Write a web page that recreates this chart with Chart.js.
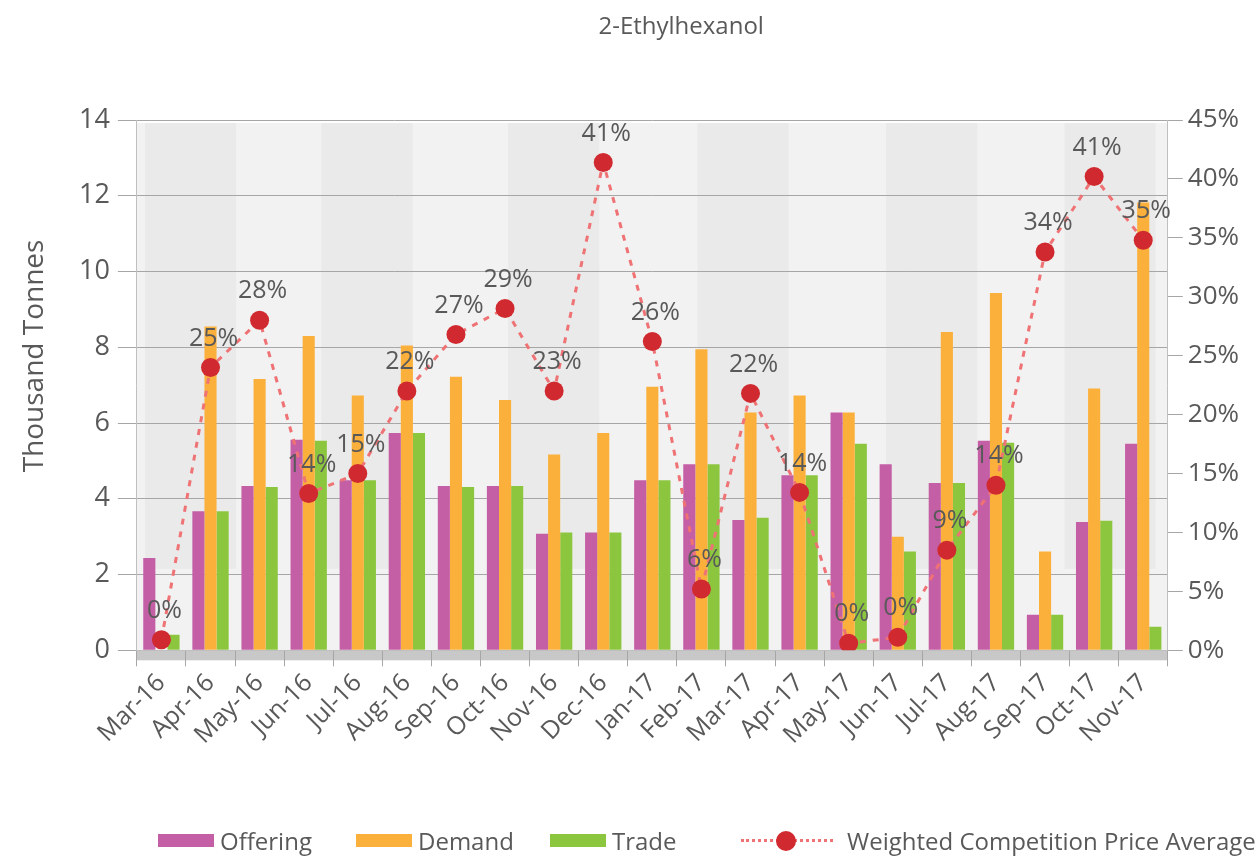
<!DOCTYPE html>
<html>
<head>
<meta charset="utf-8">
<script src="https://cdn.jsdelivr.net/npm/chart.js@4.4.0/dist/chart.umd.min.js"></script>
<style>
    body { margin: 0; background: #fff; font-family: "Open Sans", sans-serif; }
    #wrap { position: relative; width: 1260px; height: 860px; }
    .item { position: absolute; top: 824px; display: flex; align-items: center; font-size: 24px; color: #595959; white-space: nowrap; }
    .box { width: 56px; height: 13px; margin-right: 6px; }
    .lineKey { position: relative; width: 92px; height: 20px; margin-right: 14px; }
    .lineKey .dash { position: absolute; left: 0; right: 0; top: 8px; border-top: 3px dotted #ef7275; }
    .lineKey .dot { position: absolute; left: 35px; top: 0px; width: 20px; height: 20px; border-radius: 50%; background: #d02a30; }
</style>
</head>
<body>
<div id="wrap">
    <canvas id="chart" width="1260" height="860"></canvas>
    <div class="item" style="left:158px"><div class="box" style="background:#c45ea5"></div>Offering</div>
    <div class="item" style="left:356px"><div class="box" style="background:#fbb03b"></div>Demand</div>
    <div class="item" style="left:550px"><div class="box" style="background:#8cc63f"></div>Trade</div>
    <div class="item" style="left:741px"><div class="lineKey"><div class="dash"></div><div class="dot"></div></div>Weighted Competition Price Average</div>
</div>
<script>
// 카테고리 (월)
const months = ['Mar-16', 'Apr-16', 'May-16', 'Jun-16', 'Jul-16', 'Aug-16', 'Sep-16', 'Oct-16', 'Nov-16', 'Dec-16', 'Jan-17',
    'Feb-17', 'Mar-17', 'Apr-17', 'May-17', 'Jun-17', 'Jul-17', 'Aug-17', 'Sep-17', 'Oct-17', 'Nov-17'];

// 막대 데이터 (천 톤)
const offering = [2.44, 3.67, 4.34, 5.56, 4.49, 5.74, 4.34, 4.34, 3.08, 3.11, 4.49, 4.91, 3.44, 4.62, 6.28, 4.91, 4.42, 5.53, 0.94, 3.39, 5.45];
const demand = [0, 8.55, 7.16, 8.3, 6.73, 8.05, 7.22, 6.61, 5.17, 5.74, 6.96, 7.95, 6.28, 6.73, 6.28, 3.0, 8.4, 9.43, 2.61, 6.91, 11.82];
const trade = [0.41, 3.67, 4.31, 5.53, 4.49, 5.74, 4.31, 4.34, 3.11, 3.11, 4.49, 4.91, 3.5, 4.62, 5.45, 2.61, 4.42, 5.48, 0.94, 3.42, 0.62];

// 가중 경쟁 가격 평균 (%) 과 표시 라벨
const priceAvg = [0.9, 24.0, 28.0, 13.3, 15.0, 22.0, 26.8, 29.0, 22.0, 41.4, 26.2, 5.2, 21.8, 13.4, 0.6, 1.1, 8.5, 14.0, 33.8, 40.2, 34.8];
const priceLabels = ['0%', '25%', '28%', '14%', '15%', '22%', '27%', '29%', '23%', '41%', '26%', '6%', '22%', '14%', '0%', '0%', '9%', '14%', '34%', '41%', '35%'];

// 축 눈금
const leftTicks = [0, 2, 4, 6, 8, 10, 12, 14];
const rightTicks = [0, 5, 10, 15, 20, 25, 30, 35, 40, 45];

const chartTitle = '2-Ethylhexanol';
const yTitle = 'Thousand Tonnes';

const textColor = '#595959';
const fontFamily = '"Open Sans", sans-serif';

// 뒷벽 줄무늬 (차트 영역 폭 비율)
const stripes = [[0.0078, 0.0963], [0.179, 0.2675], [0.36, 0.4484], [0.5438, 0.6323], [0.7266, 0.8152], [0.8998, 0.9883]];

const wallPlugin = {
    id: 'wall',
    beforeDraw(chart) {
        const { ctx, chartArea: a, scales } = chart;
        ctx.save();
        ctx.fillStyle = '#f2f2f2';
        ctx.fillRect(a.left, a.top + 3, a.width, a.bottom - a.top - 3);
        const stripeBottom = scales.y.getPixelForValue(2.15);
        ctx.fillStyle = '#eaeaea';
        stripes.forEach(([s, e]) => {
            ctx.fillRect(a.left + s * a.width, a.top + 3, (e - s) * a.width, stripeBottom - a.top - 3);
        });
        // 바닥
        ctx.fillStyle = '#c8c8c8';
        ctx.fillRect(a.left, a.bottom, a.width, 10);
        ctx.restore();
    },
    afterDraw(chart) {
        // 제목과 세로축 제목
        const { ctx, chartArea: a } = chart;
        ctx.save();
        ctx.fillStyle = textColor;
        ctx.textAlign = 'center';
        ctx.textBaseline = 'middle';
        ctx.font = '24px ' + fontFamily;
        ctx.fillText(chartTitle, a.left + a.width * 0.528, 27);
        ctx.translate(a.left - 102, a.top + a.height * 0.445);
        ctx.rotate(-Math.PI / 2);
        ctx.font = '28px ' + fontFamily;
        ctx.fillText(yTitle, 0, 0);
        ctx.restore();
    }
};

const labelPlugin = {
    id: 'pctLabels',
    afterDatasetsDraw(chart) {
        const meta = chart.getDatasetMeta(3);
        const ctx = chart.ctx;
        ctx.save();
        ctx.font = '25px ' + fontFamily;
        ctx.fillStyle = textColor;
        ctx.textAlign = 'center';
        ctx.textBaseline = 'middle';
        meta.data.forEach((pt, i) => {
            ctx.fillText(priceLabels[i], pt.x + 3, pt.y - 29);
        });
        ctx.restore();
    }
};

new Chart(document.getElementById('chart'), {
    type: 'bar',
    data: {
        labels: months,
        datasets: [
            { label: 'Offering', data: offering, backgroundColor: '#c45ea5', yAxisID: 'y', order: 1 },
            { label: 'Demand', data: demand, backgroundColor: '#fbb03b', yAxisID: 'y', order: 1 },
            { label: 'Trade', data: trade, backgroundColor: '#8cc63f', yAxisID: 'y', order: 1 },
            {
                type: 'line',
                label: 'Weighted Competition Price Average',
                data: priceAvg,
                yAxisID: 'y1',
                order: 0,
                borderColor: '#ef7275',
                borderWidth: 3,
                borderDash: [6, 7],
                pointRadius: 9.5,
                pointBackgroundColor: '#d02a30',
                pointBorderWidth: 0,
                tension: 0,
                fill: false
            }
        ]
    },
    options: {
        responsive: false,
        animation: false,
        layout: { padding: { top: 120, right: 16, left: 71, bottom: 108 } },
        datasets: { bar: { barPercentage: 1, categoryPercentage: 0.74 } },
        plugins: {
            legend: { display: false },
            tooltip: { enabled: false },
            title: { display: false }
        },
        scales: {
            x: {
                offset: true,
                grid: { offset: true, drawOnChartArea: false, tickLength: 16, color: '#a6a6a6' },
                border: { color: '#bfbfbf' },
                ticks: { maxRotation: 45, minRotation: 45, color: textColor, font: { family: fontFamily, size: 25 }, padding: 2 }
            },
            y: {
                position: 'left',
                min: 0,
                max: 14,
                afterBuildTicks: axis => { axis.ticks = leftTicks.map(v => ({ value: v })); },
                ticks: { color: textColor, font: { family: fontFamily, size: 27 }, padding: 8 },
                grid: { color: '#a6a6a6', tickLength: 19 },
                border: { color: '#bfbfbf' }
            },
            y1: {
                position: 'right',
                min: 0,
                max: 45,
                afterBuildTicks: axis => { axis.ticks = rightTicks.map(v => ({ value: v })); },
                ticks: { color: textColor, font: { family: fontFamily, size: 26 }, padding: 5, callback: v => v + '%' },
                grid: { drawOnChartArea: false, tickLength: 15, color: '#a6a6a6' },
                border: { color: '#bfbfbf' }
            }
        }
    },
    plugins: [wallPlugin, labelPlugin]
});
</script>
</body>
</html>
